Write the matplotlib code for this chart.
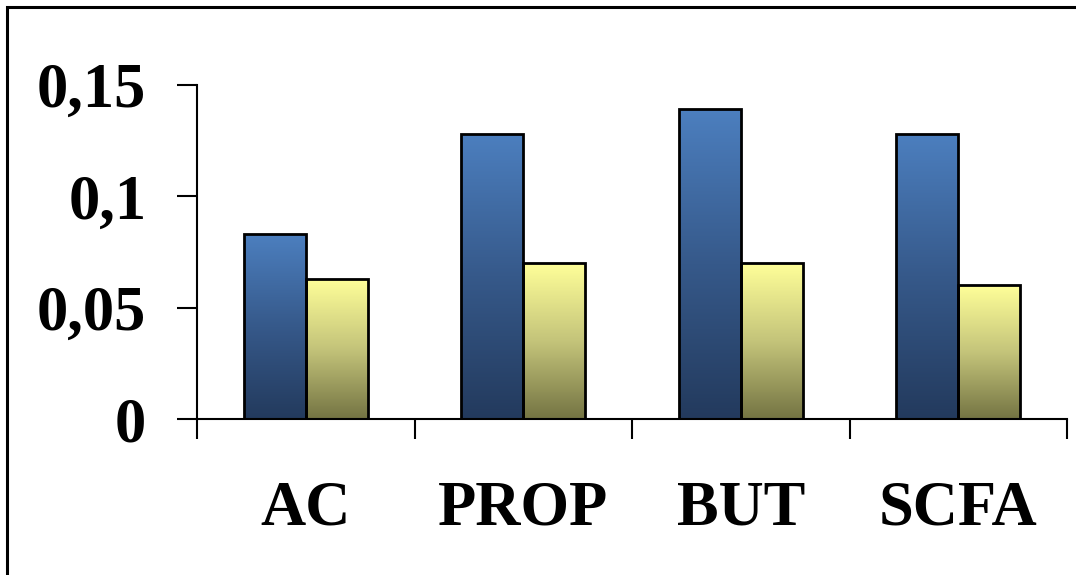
import numpy as np
import matplotlib.pyplot as plt
from matplotlib.colors import LinearSegmentedColormap
from matplotlib.patches import Rectangle

categories = ["AC", "PROP", "BUT", "SCFA"]
series_a = [0.083, 0.128, 0.139, 0.128]
series_b = [0.063, 0.070, 0.070, 0.060]
y_ticks = [0, 0.05, 0.1, 0.15]
y_labels = ["0", "0,05", "0,1", "0,15"]

blue_cmap = LinearSegmentedColormap.from_list("blue", ["#233a5d", "#36598a", "#4c7fbf"])
yellow_cmap = LinearSegmentedColormap.from_list("yellow", ["#747443", "#c4c47a", "#ffff99"])


def gradient_bars(ax, x, heights, width, cmap):
    bars = ax.bar(x, heights, width, facecolor="none", edgecolor="black",
                  linewidth=2, zorder=3)
    grad = np.linspace(0, 1, 256).reshape(-1, 1)
    for b in bars:
        x0, y0 = b.get_x(), b.get_y()
        w, h = b.get_width(), b.get_height()
        im = ax.imshow(grad, cmap=cmap, origin="lower", aspect="auto",
                       extent=[x0, x0 + w, y0, y0 + h], zorder=2)
        im.set_clip_path(b)
    return bars


def main():
    plt.rcParams["font.family"] = ["Liberation Serif", "DejaVu Serif"]
    plt.rcParams["font.weight"] = "bold"

    fig = plt.figure(figsize=(10.76, 5.75), dpi=100)
    # outer frame (only left and top edges visible in the original)
    fig.patches.append(Rectangle((7 / 1076, -0.1), 1.2, 1.1 - 7 / 575 + 0.0,
                                 transform=fig.transFigure, fill=False,
                                 edgecolor="black", linewidth=2.2))

    ax = fig.add_axes([197 / 1076, (575 - 419) / 575, 870 / 1076, 334 / 575])

    x = np.arange(len(categories)) + 0.5
    w = 0.285
    gradient_bars(ax, x - w / 2, series_a, w, blue_cmap)
    gradient_bars(ax, x + w / 2, series_b, w, yellow_cmap)

    ax.set_xlim(0, len(categories))
    ax.set_ylim(0, 0.15)

    ax.spines["top"].set_visible(False)
    ax.spines["right"].set_visible(False)
    ax.spines["left"].set_linewidth(1.5)
    ax.spines["bottom"].set_linewidth(1.5)

    ax.set_yticks(y_ticks)
    ax.set_yticklabels(y_labels, fontsize=45, fontweight="bold")
    ax.tick_params(axis="y", length=14.5, width=1.5, pad=22)

    ax.set_xticks(np.arange(len(categories) + 1))
    ax.set_xticklabels([])
    ax.tick_params(axis="x", which="major", length=14.5, width=1.5)
    ax.set_xticks(x, minor=True)
    ax.set_xticklabels(categories, minor=True, fontsize=45, fontweight="bold")
    ax.tick_params(axis="x", which="minor", length=0, pad=44)

    fig.savefig("out.png", dpi=100)


if __name__ == "__main__":
    main()
